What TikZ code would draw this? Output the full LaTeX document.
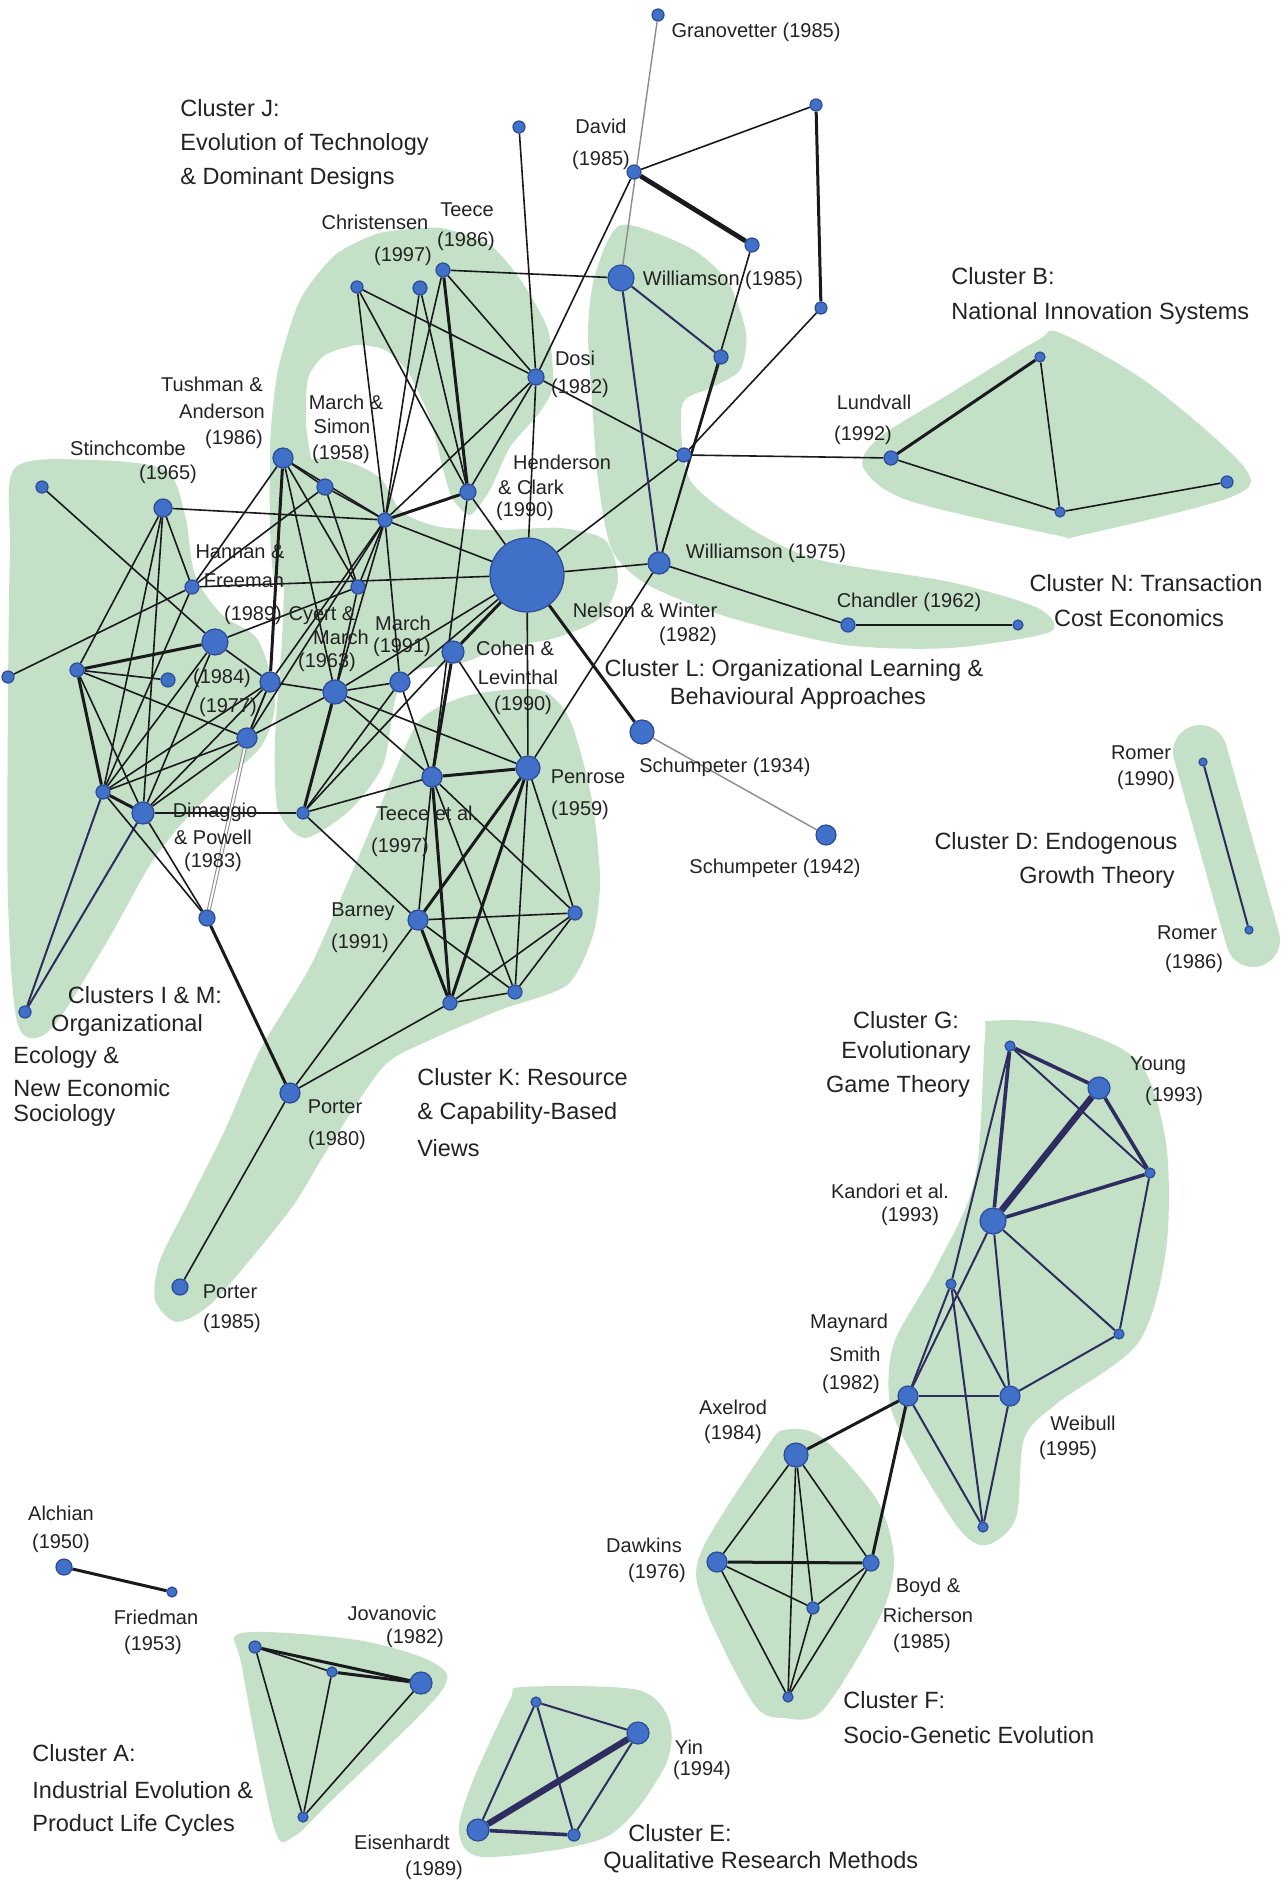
\documentclass[tikz,border=0pt]{standalone}
\usepackage{fontspec}
\setmainfont{Liberation Sans}
\pgfdeclarelayer{bg}
\pgfdeclarelayer{edge}
\pgfsetlayers{bg,edge,main}
\definecolor{hullc}{RGB}{196,224,199}
\definecolor{nodec}{RGB}{64,112,200}
\definecolor{nodeb}{RGB}{45,75,150}
\definecolor{edgec}{RGB}{25,25,30}
\definecolor{navyc}{RGB}{45,45,95}
\definecolor{greyl}{RGB}{140,140,140}
\definecolor{txt}{RGB}{35,35,35}
\tikzset{
  nd/.style={circle, fill=nodec, draw=nodeb, line width=0.6pt, inner sep=0pt, minimum size=#1pt},
  e/.style={draw=edgec, line width=0.8pt},
  et/.style={draw=edgec, line width=1.5pt},
  ev/.style={draw=edgec, line width=2.4pt},
  en/.style={draw=navyc, line width=1pt},
  ent/.style={draw=navyc, line width=1.8pt},
  env/.style={draw=navyc, line width=3.2pt},
  eg/.style={draw=greyl, line width=0.7pt},
  egd/.style={draw=greyl, double=white, double distance=1pt, line width=0.5pt},
  lab/.style={font=\fontsize{10}{12}\selectfont, inner sep=0pt, text=txt},
  clab/.style={font=\fontsize{11.75}{14}\selectfont, inner sep=0pt, text=txt, anchor=west},
  hull/.style={fill=hullc}
}
\begin{document}
\begin{tikzpicture}[x=0.5pt,y=-0.5pt]
\useasboundingbox (0,0) rectangle (1287,1882);
\begin{pgfonlayer}{bg}
\fill[white] (0,0) rectangle (1287,1882);
% Cluster I & M
\fill[hull] plot[smooth cycle, tension=0.5] coordinates {(15,468) (90,460) (165,470) (185,515) (195,575) (222,615) (258,640) (275,700) (262,745) (225,780) (185,820) (150,865) (105,945) (50,1030) (18,1025) (8,900) (8,700) (10,550)};
% Cluster J
\fill[hull] plot[smooth cycle, tension=0.4] coordinates {(275,580) (270,450) (278,370) (300,300) (335,255) (380,233) (440,228) (490,245) (522,282) (548,330) (553,385) (540,412) (510,447) (490,490) (470,515) (452,498) (442,465) (430,418) (408,372) (385,350) (357,345) (325,355) (308,378) (306,425) (312,465) (330,580)};
% Cluster L
\fill[hull] plot[smooth cycle, tension=0.45] coordinates {(288,468) (340,460) (380,478) (402,512) (440,527) (500,530) (560,528) (605,540) (618,580) (600,618) (555,638) (500,648) (465,662) (410,672) (395,700) (383,765) (350,810) (305,838) (278,810) (275,740) (282,640) (285,560)};
% Cluster K
\fill[hull] plot[smooth cycle, tension=0.45] coordinates {(177,1322) (155,1300) (160,1260) (190,1200) (225,1130) (260,1050) (310,967) (350,877) (390,783) (420,720) (470,695) (540,690) (570,720) (592,800) (600,880) (593,935) (567,985) (500,1010) (430,1040) (383,1067) (327,1150) (290,1210) (215,1300)};
% Cluster N
\fill[hull] plot[smooth cycle, tension=0.45] coordinates {(621,225) (690,248) (728,282) (746,333) (740,370) (711,388) (682,405) (690,480) (753,530) (819,560) (950,582) (1038,608) (1050,632) (950,648) (845,645) (731,618) (648,585) (612,550) (598,480) (592,400) (588,330) (595,275)};
% Cluster B
\fill[hull] plot[smooth cycle, tension=0.5] coordinates {(1060,333) (1148,383) (1244,467) (1231,497) (1082,535) (1056,535) (907,500) (863,467) (880,437) (951,393) (1038,340)};
% Cluster D
\draw[hullc, line width=27pt, line cap=round] (1200,752) -- (1253,940);
% Cluster G
\fill[hull] plot[smooth cycle, tension=0.5] coordinates {(991,1021) (1060,1025) (1138,1061) (1166,1143) (1166,1250) (1138,1343) (1056,1404) (1024,1439) (1016,1518) (987,1545) (960,1530) (914,1457) (890,1404) (894,1343) (934,1271) (975,1179) (985,1036)};
% Cluster F
\fill[hull] plot[smooth cycle, tension=0.5] coordinates {(784,1430) (821,1437) (877,1500) (894,1560) (880,1617) (823,1710) (784,1718) (753,1703) (702,1600) (702,1550) (765,1450)};
% Cluster A
\fill[hull] plot[smooth cycle, tension=0.5] coordinates {(242,1633) (357,1640) (434,1663) (440,1693) (332,1800) (293,1837) (274,1827) (242,1667)};
% Cluster E
\fill[hull] plot[smooth cycle, tension=0.5] coordinates {(523,1687) (638,1690) (670,1723) (663,1770) (606,1837) (485,1857) (459,1833) (472,1783) (510,1700)};
\end{pgfonlayer}

% nodes
\node[nd=6] (gran) at (658,15) {};
\node[nd=6] (jt) at (519,127) {};
\node[nd=7] (david) at (634,172) {};
\node[nd=6] (tr) at (816,105) {};
\node[nd=6] (rn) at (821,308) {};
\node[nd=7] (wn) at (752,245) {};
\node[nd=13] (w85) at (621,278) {};
\node[nd=7] (teeceb) at (443,270) {};
\node[nd=7] (chris) at (420,288) {};
\node[nd=6] (jl) at (357,287) {};
\node[nd=8] (dosi) at (536,377) {};
\node[nd=7] (wr) at (721,357) {};
\node[nd=7] (jn) at (684,455) {};
\node[nd=7] (lund) at (891,458) {};
\node[nd=5] (bt) at (1040,357) {};
\node[nd=5] (bb) at (1060,512) {};
\node[nd=6] (br) at (1227,482) {};
\node[nd=11] (wsf) at (659,563) {};
\node[nd=7] (chand) at (848,625) {};
\node[nd=5] (chr) at (1018,625) {};
\node[nd=12] (sch) at (642,732) {};
\node[nd=10] (schb) at (826,835) {};
\node[nd=4] (rma) at (1203,762) {};
\node[nd=4] (rmb) at (1249,930) {};
\node[nd=10] (tush) at (283,458) {};
\node[nd=8] (nsf) at (325,487) {};
\node[nd=7] (msn) at (385,520) {};
\node[nd=8] (hn) at (468,492) {};
\node[nd=37] (hc) at (527,575) {};
\node[nd=7] (star) at (358,587) {};
\node[nd=10] (hfa) at (270,682) {};
\node[nd=12] (cm) at (335,692) {};
\node[nd=10] (mar) at (400,682) {};
\node[nd=11] (cl) at (453,652) {};
\node[nd=10] (nse) at (247,738) {};
\node[nd=10] (tea) at (432,777) {};
\node[nd=12] (pen) at (528,768) {};
\node[nd=6] (nth) at (303,813) {};
\node[nd=6] (ll) at (42,487) {};
\node[nd=9] (stin) at (163,508) {};
\node[nd=7] (nog) at (192,587) {};
\node[nd=13] (hfb) at (215,642) {};
\node[nd=7] (nss) at (77,670) {};
\node[nd=6] (fl) at (8,677) {};
\node[nd=7] (nsx) at (168,680) {};
\node[nd=7] (nzt) at (103,792) {};
\node[nd=11] (nfo) at (143,813) {};
\node[nd=8] (dim) at (207,918) {};
\node[nd=6] (bl) at (25,1012) {};
\node[nd=10] (pta) at (290,1093) {};
\node[nd=8] (ptb) at (180,1287) {};
\node[nd=10] (barn) at (418,920) {};
\node[nd=7] (kr) at (575,913) {};
\node[nd=7] (kb) at (450,1003) {};
\node[nd=7] (kc) at (515,992) {};
\node[nd=5] (gt) at (1010,1046) {};
\node[nd=11] (young) at (1099,1088) {};
\node[nd=5] (gr) at (1150,1173) {};
\node[nd=13] (kand) at (993,1221) {};
\node[nd=5] (gs) at (951,1284) {};
\node[nd=5] (grl) at (1119,1334) {};
\node[nd=10] (mays) at (908,1396) {};
\node[nd=10] (weib) at (1010,1396) {};
\node[nd=5] (gb) at (983,1527) {};
\node[nd=12] (axel) at (796,1455) {};
\node[nd=10] (daw) at (717,1562) {};
\node[nd=8] (boyd) at (871,1563) {};
\node[nd=6] (fm) at (813,1608) {};
\node[nd=5] (fb) at (788,1697) {};
\node[nd=8] (alch) at (64,1567) {};
\node[nd=5] (fried) at (172,1592) {};
\node[nd=6] (atl) at (255,1647) {};
\node[nd=5] (am) at (332,1672) {};
\node[nd=11] (jov) at (421,1683) {};
\node[nd=5] (ab) at (303,1817) {};
\node[nd=5] (etl) at (536,1702) {};
\node[nd=11] (yin) at (638,1733) {};
\node[nd=11] (eis) at (478,1830) {};
\node[nd=6] (ebr) at (574,1835) {};

\begin{pgfonlayer}{edge}
% top
\draw[eg] (gran) -- (w85);
\draw[e] (david) -- (tr);
\draw[et] (tr) -- (rn);
\draw[e] (rn) -- (jn);
\draw[e] (jn) -- (hc);
\draw[ev] (david) -- (wn);
\draw[e] (david) -- (dosi);
\draw[e] (jt) -- (dosi);
\draw[e] (dosi) -- (hc);
\draw[e] (teeceb) -- (w85);
\draw[e] (dosi) -- (jn);
\draw[e] (jn) -- (lund);
\draw[e] (wsf) -- (wn);
\draw[e] (wsf) -- (wr);
\draw[en] (w85) -- (wr);
\draw[en] (w85) -- (wsf);
\draw[e] (hc) -- (wsf);
\draw[e] (wsf) -- (chand);
\draw[e] (chand) -- (chr);
\draw[e] (pen) -- (wsf);
\draw[et] (hc) -- (sch);
\draw[eg] (sch) -- (schb);
\draw[et] (lund) -- (bt);
\draw[e] (lund) -- (bb);
\draw[e] (bt) -- (bb);
\draw[e] (bb) -- (br);
\draw[en] (rma) -- (rmb);
% cluster J
\draw[e] (jl) -- (dosi);
\draw[e] (jl) -- (msn);
\draw[e] (jl) -- (hn);
\draw[e] (chris) -- (msn);
\draw[e] (chris) -- (hn);
\draw[et] (teeceb) -- (hn);
\draw[e] (teeceb) -- (msn);
\draw[e] (teeceb) -- (dosi);
\draw[e] (msn) -- (dosi);
\draw[e] (hn) -- (dosi);
% centre
\draw[e] (stin) -- (msn);
\draw[e] (nog) -- (hc);
\draw[e] (tush) -- (nsf);
\draw[e] (tush) -- (msn);
\draw[e] (tush) -- (star);
\draw[et] (tush) -- (hfa);
\draw[e] (tush) -- (nog);
\draw[e] (tush) -- (cm);
\draw[e] (nsf) -- (msn);
\draw[e] (nsf) -- (star);
\draw[e] (nsf) -- (nog);
\draw[et] (msn) -- (hn);
\draw[e] (msn) -- (hc);
\draw[e] (msn) -- (star);
\draw[e] (msn) -- (cm);
\draw[e] (msn) -- (mar);
\draw[e] (msn) -- (nse);
\draw[e] (msn) -- (hfa);
\draw[e] (hn) -- (hc);
\draw[e] (hn) -- (tea);
\draw[et] (hc) -- (cl);
\draw[e] (hc) -- (cm);
\draw[e] (hc) -- (mar);
\draw[e] (hc) -- (pen);
\draw[et] (cl) -- (tea);
\draw[e] (cl) -- (pen);
\draw[e] (cl) -- (nth);
\draw[e] (cm) -- (mar);
\draw[e] (cm) -- (nse);
\draw[e] (cm) -- (pen);
\draw[e] (cm) -- (tea);
\draw[et] (cm) -- (nth);
\draw[e] (hfa) -- (cm);
\draw[e] (mar) -- (tea);
\draw[e] (mar) -- (nth);
\draw[et] (tea) -- (pen);
\draw[e] (tea) -- (nth);
\draw[e] (nth) -- (barn);
\draw[e] (hfa) -- (nse);
\draw[e] (star) -- (cm);
\draw[e] (star) -- (hfb);
% left
\draw[e] (ll) -- (hfb);
\draw[e] (stin) -- (nss);
\draw[e] (stin) -- (nzt);
\draw[e] (stin) -- (nfo);
\draw[e] (stin) -- (nog);
\draw[e] (fl) -- (nog);
\draw[et] (nss) -- (hfb);
\draw[e] (nss) -- (nsx);
\draw[et] (nss) -- (nzt);
\draw[e] (nss) -- (nfo);
\draw[e] (nss) -- (nse);
\draw[et] (nzt) -- (nfo);
\draw[e] (nzt) -- (hfb);
\draw[e] (nzt) -- (nse);
\draw[e] (nzt) -- (nog);
\draw[e] (nzt) -- (hfa);
\draw[e] (nfo) -- (nse);
\draw[e] (nfo) -- (hfb);
\draw[e] (nfo) -- (hfa);
\draw[e] (nfo) -- (nth);
\draw[e] (nse) -- (hfa);
\draw[e] (hfb) -- (hfa);
\draw[en] (bl) -- (nzt);
\draw[en] (bl) -- (nfo);
\draw[e] (nzt) -- (dim);
\draw[e] (nfo) -- (dim);
\draw[egd] (nse) -- (dim);
% cluster K
\draw[e] (tea) -- (barn);
\draw[et] (tea) -- (kb);
\draw[e] (tea) -- (kc);
\draw[e] (tea) -- (kr);
\draw[et] (pen) -- (barn);
\draw[et] (pen) -- (kb);
\draw[e] (pen) -- (kc);
\draw[e] (pen) -- (kr);
\draw[e] (barn) -- (kr);
\draw[et] (barn) -- (kb);
\draw[e] (barn) -- (kc);
\draw[e] (kb) -- (kc);
\draw[e] (kb) -- (kr);
\draw[e] (kc) -- (kr);
\draw[e] (barn) -- (pta);
\draw[e] (kb) -- (pta);
\draw[et] (dim) -- (pta);
\draw[e] (pta) -- (ptb);
% cluster G
\draw[ent] (gt) -- (young);
\draw[en] (gt) -- (gr);
\draw[ent] (gt) -- (kand);
\draw[en] (gt) -- (gs);
\draw[en] (gs) -- (mays);
\draw[env] (young) -- (kand);
\draw[ent] (young) -- (gr);
\draw[ent] (kand) -- (gr);
\draw[en] (kand) -- (grl);
\draw[en] (gr) -- (grl);
\draw[en] (grl) -- (weib);
\draw[en] (kand) -- (weib);
\draw[en] (kand) -- (mays);
\draw[en] (gs) -- (weib);
\draw[en] (gs) -- (gb);
\draw[en] (mays) -- (weib);
\draw[en] (mays) -- (gb);
\draw[en] (weib) -- (gb);
\draw[et] (mays) -- (axel);
\draw[et] (mays) -- (boyd);
% cluster F
\draw[e] (axel) -- (daw);
\draw[e] (axel) -- (boyd);
\draw[e] (axel) -- (fm);
\draw[e] (axel) -- (fb);
\draw[et] (daw) -- (boyd);
\draw[e] (daw) -- (fm);
\draw[e] (daw) -- (fb);
\draw[e] (boyd) -- (fm);
\draw[e] (boyd) -- (fb);
\draw[e] (fm) -- (fb);
% cluster A
\draw[et] (atl) -- (jov);
\draw[e] (atl) -- (am);
\draw[et] (am) -- (jov);
\draw[e] (atl) -- (ab);
\draw[e] (am) -- (ab);
\draw[e] (jov) -- (ab);
% cluster E
\draw[en] (etl) -- (yin);
\draw[en] (etl) -- (eis);
\draw[en] (etl) -- (ebr);
\draw[env] (yin) -- (eis);
\draw[en] (yin) -- (ebr);
\draw[ent] (eis) -- (ebr);
\draw[et] (alch) -- (fried);
\end{pgfonlayer}

% labels
\node[lab] (t1) at (756,32) {Granovetter (1985)};
\node[clab] (t2) at (180,108) {Cluster J:};
\node[clab] (t3) at (180,144) {Evolution of Technology};
\node[clab] (t4) at (180,178) {\& Dominant Designs};
\node[lab] (t5) at (601,126) {David};
\node[lab] (t6) at (601,160) {(1985)};
\node[lab] (t7) at (375,222) {Christensen};
\node[lab] (t8) at (403,256) {(1997)};
\node[lab] (t9) at (467,210) {Teece};
\node[lab] (t10) at (466,241) {(1986)};
\node[lab] (t11) at (723,280) {Williamson (1985)};
\node[lab] (t12) at (575,358) {Dosi};
\node[lab] (t13) at (580,388) {(1982)};
\node[clab] (t14) at (951,276) {Cluster B:};
\node[clab] (t15) at (951,313) {National Innovation Systems};
\node[lab] (t16) at (212,384) {Tushman \&};
\node[lab] (t17) at (222,411) {Anderson};
\node[lab] (t18) at (234,439) {(1986)};
\node[lab] (t19) at (346,402) {March \&};
\node[lab] (t20) at (342,426) {Simon};
\node[lab] (t21) at (341,454) {(1958)};
\node[lab] (t22) at (128,448) {Stinchcombe};
\node[lab] (t23) at (168,474) {(1965)};
\node[lab] (t24) at (874,402) {Lundvall};
\node[lab] (t25) at (863,435) {(1992)};
\node[lab] (t26) at (562,462) {Henderson};
\node[lab] (t27) at (531,487) {\& Clark};
\node[lab] (t28) at (525,511) {(1990)};
\node[lab] (t29) at (240,552) {Hannan \&};
\node[lab] (t30) at (244,581) {Freeman};
\node[lab] (t31) at (253,615) {(1989)};
\node[lab] (t32) at (322,616) {Cyert \&};
\node[lab] (t33) at (341,637) {March};
\node[lab] (t34) at (327,662) {(1963)};
\node[lab] (t35) at (403,623) {March};
\node[lab] (t36) at (402,647) {(1991)};
\node[lab] (t37) at (222,678) {(1984)};
\node[lab] (t38) at (228,707) {(1977)};
\node[lab] (t39) at (515,648) {Cohen \&};
\node[lab] (t40) at (518,677) {Levinthal};
\node[lab] (t41) at (523,705) {(1990)};
\node[lab] (t42) at (766,553) {Williamson (1975)};
\node[lab] (t43) at (645,610) {Nelson \& Winter};
\node[lab] (t44) at (688,636) {(1982)};
\node[lab] (t45) at (909,602) {Chandler (1962)};
\node[clab, anchor=center] (t46) at (1146,583) {Cluster N: Transaction};
\node[clab, anchor=center] (t47) at (1139,618) {Cost Economics};
\node[clab, anchor=center] (t48) at (794,670) {Cluster L: Organizational Learning \&};
\node[clab, anchor=center] (t49) at (798,698) {Behavioural Approaches};
\node[lab] (t50) at (725,767) {Schumpeter (1934)};
\node[lab] (t51) at (588,777) {Penrose};
\node[lab] (t52) at (580,810) {(1959)};
\node[lab] (t53) at (427,813) {Teece et al.};
\node[lab] (t54) at (400,847) {(1997)};
\node[lab] (t55) at (215,812) {Dimaggio};
\node[lab] (t56) at (213,837) {\& Powell};
\node[lab] (t57) at (213,862) {(1983)};
\node[lab] (t58) at (775,868) {Schumpeter (1942)};
\node[lab] (t59) at (1141,753) {Romer};
\node[lab] (t60) at (1146,780) {(1990)};
\node[clab, anchor=center] (t61) at (1056,843) {Cluster D: Endogenous};
\node[clab, anchor=center] (t62) at (1097,877) {Growth Theory};
\node[lab] (t63) at (1187,933) {Romer};
\node[lab] (t64) at (1194,963) {(1986)};
\node[lab] (t65) at (363,912) {Barney};
\node[lab] (t66) at (360,943) {(1991)};
\node[clab, anchor=center] (t67) at (145,995) {Clusters I \& M:};
\node[clab, anchor=center] (t68) at (127,1025) {Organizational};
\node[clab] (t69) at (13,1057) {Ecology \&};
\node[clab] (t70) at (13,1088) {New Economic};
\node[clab] (t71) at (13,1115) {Sociology};
\node[clab] (t72) at (417,1077) {Cluster K: Resource};
\node[clab] (t73) at (417,1113) {\& Capability-Based};
\node[clab] (t74) at (417,1148) {Views};
\node[lab] (t75) at (335,1107) {Porter};
\node[lab] (t76) at (337,1140) {(1980)};
\node[lab] (t77) at (230,1292) {Porter};
\node[lab] (t78) at (232,1323) {(1985)};
\node[clab, anchor=center] (t79) at (906,1020) {Cluster G:};
\node[clab, anchor=center] (t80) at (906,1052) {Evolutionary};
\node[clab, anchor=center] (t81) at (898,1086) {Game Theory};
\node[lab] (t82) at (1158,1066) {Young};
\node[lab] (t83) at (1174,1096) {(1993)};
\node[lab] (t84) at (890,1191) {Kandori et al.};
\node[lab] (t85) at (910,1216) {(1993)};
\node[lab] (t86) at (849,1323) {Maynard};
\node[lab] (t87) at (855,1354) {Smith};
\node[lab] (t88) at (851,1384) {(1982)};
\node[lab] (t89) at (1083,1423) {Weibull};
\node[lab] (t90) at (1068,1450) {(1995)};
\node[lab] (t91) at (733,1407) {Axelrod};
\node[lab] (t92) at (733,1434) {(1984)};
\node[lab] (t93) at (644,1545) {Dawkins};
\node[lab] (t94) at (657,1573) {(1976)};
\node[lab] (t95) at (928,1587) {Boyd \&};
\node[lab] (t96) at (928,1615) {Richerson};
\node[lab] (t97) at (922,1643) {(1985)};
\node[clab] (t98) at (843,1700) {Cluster F:};
\node[clab] (t99) at (843,1735) {Socio-Genetic Evolution};
\node[lab] (t100) at (61,1513) {Alchian};
\node[lab] (t101) at (61,1543) {(1950)};
\node[lab] (t102) at (156,1617) {Friedman};
\node[lab] (t103) at (153,1645) {(1953)};
\node[lab] (t104) at (392,1613) {Jovanovic};
\node[lab] (t105) at (415,1638) {(1982)};
\node[clab] (t106) at (32,1753) {Cluster A:};
\node[clab] (t107) at (32,1790) {Industrial Evolution \&};
\node[clab] (t108) at (32,1825) {Product Life Cycles};
\node[lab] (t109) at (689,1747) {Yin};
\node[lab] (t110) at (702,1770) {(1994)};
\node[lab] (t111) at (402,1842) {Eisenhardt};
\node[lab] (t112) at (434,1870) {(1989)};
\node[clab] (t113) at (628,1833) {Cluster E:};
\node[clab] (t114) at (603,1862) {Qualitative Research Methods};
\end{tikzpicture}
\end{document}
